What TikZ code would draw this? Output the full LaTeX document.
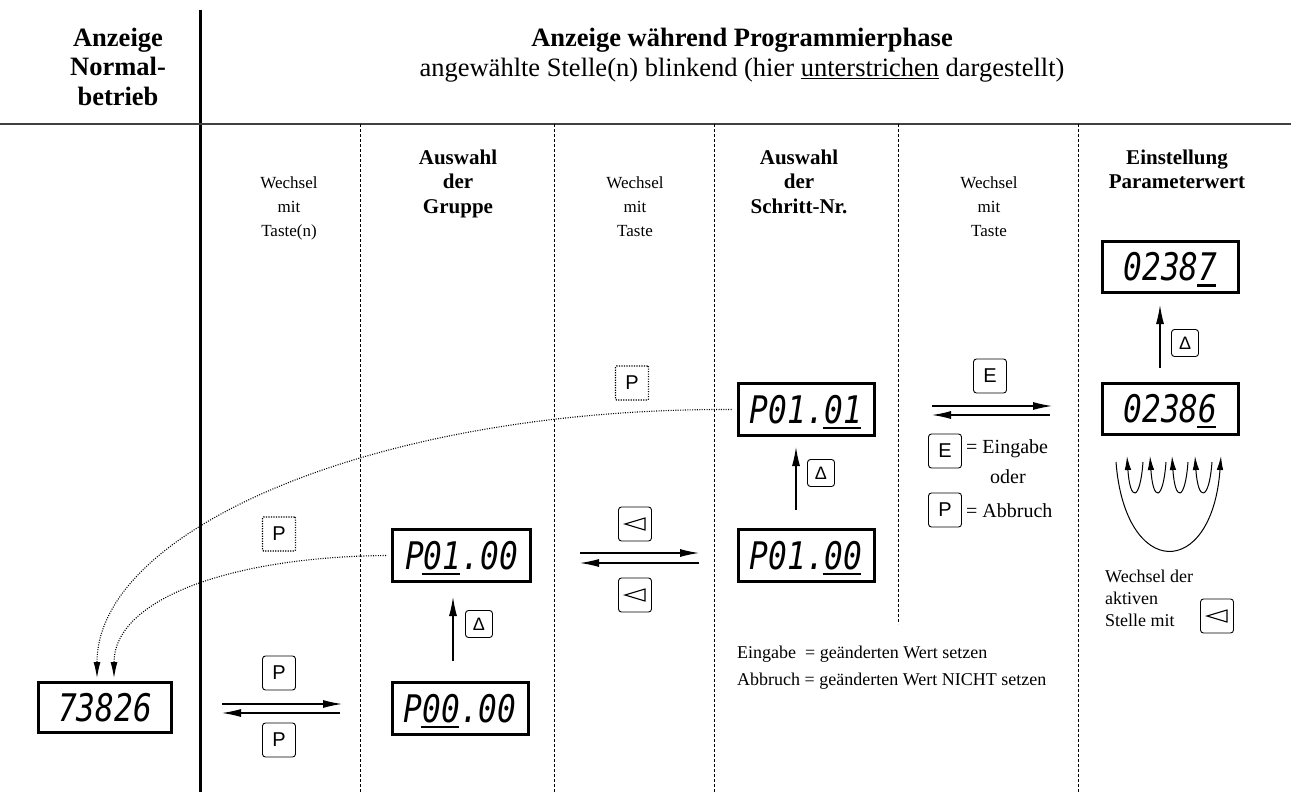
\documentclass[tikz,border=0pt]{standalone}
\usepackage{fontspec}
\setmainfont{Liberation Serif}
\newfontfamily\keyfont{Liberation Sans}
\newfontfamily\segfont{DejaVu Sans Mono}[FakeStretch=0.82]
\usetikzlibrary{arrows.meta}
\newcommand\myfs[1]{\fontsize{#1}{#1}\selectfont}
\newlength\segw
\newcommand\segul[1]{\settowidth\segw{#1}\rlap{\kern-1.5pt\rule[-6pt]{\segw}{2.4pt}}#1}
\begin{document}
\begin{tikzpicture}[x=1pt,y=-1pt,
  hdr/.style={font=\bfseries\myfs{26.5}, anchor=base, inner sep=0pt},
  sub/.style={font=\myfs{26.5}, anchor=base, inner sep=0pt},
  colhd/.style={font=\bfseries\myfs{21}, anchor=base, inner sep=0pt},
  small/.style={font=\myfs{17}, anchor=base, inner sep=0pt},
  note/.style={font=\myfs{18}, anchor=base west, inner sep=0pt},
  legend/.style={font=\myfs{20}, anchor=base west, inner sep=0pt},
  disp/.style={draw, line width=3pt, minimum width=136pt, minimum height=52pt, inner sep=0pt,
    text height=27.7pt, text depth=0pt, font=\segfont\itshape\myfs{38}},
  key/.style={draw, rounded corners=3pt, line width=0.9pt, minimum width=33pt, minimum height=34pt,
    inner sep=0pt, font=\keyfont\myfs{20}},
  skey/.style={key, minimum width=27pt, minimum height=27pt, font=\keyfont\myfs{18}},
  dkey/.style={key, rounded corners=1pt, line width=1.2pt, dash pattern=on 1.2pt off 1.3pt},
  arr/.style={line width=1.1pt, -{Latex[length=19pt,width=8pt]}},
  looparr/.style={line width=1pt, -{Latex[length=14pt,width=6.5pt]}},
  colline/.style={line width=0.8pt, dash pattern=on 3pt off 2pt},
  dots/.style={line width=1.1pt, dash pattern=on 1pt off 1.4pt, -{Latex[length=16pt,width=7pt]}},
  tri/.style={line width=1.1pt, line join=miter}
]
\useasboundingbox (0,0) rectangle (1291,792);
% frame
\coordinate (vt) at (200,10);
\coordinate (vb) at (200,792);
\draw[line width=3pt] (vt) -- (vb);
\coordinate (hl) at (0,124);
\coordinate (hr) at (1291,124);
\draw[line width=1.5pt, black!75] (hl) -- (hr);
\foreach \x/\e in {360/792,554/792,714/792,898/624,1078/792}
  \draw[colline] (\x,124) -- (\x,\e);

% headers
\node[hdr] (h1) at (118,47) {Anzeige};
\node[hdr] (h2) at (118,76) {Normal-};
\node[hdr] (h3) at (118,105) {betrieb};
\node[hdr] (m1) at (742,47) {Anzeige während Programmierphase};
\node[sub] (m2) at (742,77) {angewählte Stelle(n) blinkend (hier \underline{unterstrichen} dargestellt)};

% column heads
\node[small] (c1a) at (289,188) {Wechsel};
\node[small] (c1b) at (289,212) {mit};
\node[small] (c1c) at (289,236) {Taste(n)};
\node[colhd] (c2a) at (458,164) {Auswahl};
\node[colhd] (c2b) at (458,188) {der};
\node[colhd] (c2c) at (458,213) {Gruppe};
\node[small] (c3a) at (635,188) {Wechsel};
\node[small] (c3b) at (635,212) {mit};
\node[small] (c3c) at (635,236) {Taste};
\node[colhd] (c4a) at (799,164) {Auswahl};
\node[colhd] (c4b) at (799,188) {der};
\node[colhd] (c4c) at (799,213) {Schritt-Nr.};
\node[small] (c5a) at (989,188) {Wechsel};
\node[small] (c5b) at (989,212) {mit};
\node[small] (c5c) at (989,236) {Taste};
\node[colhd] (c6a) at (1177,164) {Einstellung};
\node[colhd] (c6b) at (1177,188) {Parameterwert};

% displays
\node[disp, minimum width=133pt, minimum height=50pt] (d0) at (105,707.5) {73826};
\node[disp, minimum width=138pt] (g1) at (461.5,555.5) {P\segul{01}.00};
\node[disp] (g0) at (460,708.5) {P\segul{00}.00};
\node[disp] (s1) at (806,409.5) {P01.\segul{01}};
\node[disp] (s0) at (806,555.5) {P01.\segul{00}};
\node[disp, minimum height=51pt] (v1) at (1170.5,267) {0238\segul{7}};
\node[disp, minimum height=51pt] (v0) at (1170.5,408.5) {0238\segul{6}};

% keys
\node[key] (kp1) at (279,673) {P};
\node[key] (kp2) at (279,740) {P};
\node[dkey] (kpd1) at (279,534) {P};
\node[dkey] (kpd2) at (632,383) {P};
\node[key] (kl1) at (635,524) {};
\node[key] (kl2) at (635,595) {};
\node[key] (ke) at (990,376) {E};
\node[key] (ke2) at (945,451) {E};
\node[key] (kp3) at (945,510) {P};
\node[skey] (kd1) at (479,624) {Δ};
\node[skey] (kd2) at (821,473) {Δ};
\node[skey] (kd3) at (1185,343) {Δ};
\node[key] (kl3) at (1217,616) {};
\foreach \k in {kl1,kl2,kl3}
  \draw[tri] ([xshift=-10pt]\k.center) -- ([xshift=10pt,yshift=6pt]\k.center)
     -- ([xshift=10pt,yshift=-6pt]\k.center) -- cycle;

% horizontal arrow pairs
\coordinate (a1l) at (222,704); \coordinate (a1r) at (342,704);
\coordinate (b1r) at (340,713); \coordinate (b1l) at (222,713);
\draw[arr] (a1l) -- (a1r);
\draw[arr] (b1r) -- (b1l);
\coordinate (a3l) at (580,553); \coordinate (a3r) at (699,553);
\coordinate (b3r) at (699,563); \coordinate (b3l) at (580,563);
\draw[arr] (a3l) -- (a3r);
\draw[arr] (b3r) -- (b3l);
\coordinate (a5l) at (932,406); \coordinate (a5r) at (1052,406);
\coordinate (b5r) at (1050,415); \coordinate (b5l) at (932,415);
\draw[arr] (a5l) -- (a5r);
\draw[arr] (b5r) -- (b5l);

% up arrows
\draw[arr] ([xshift=-7pt,yshift=20pt]g0.north) -- ([xshift=-8.5pt,yshift=-14pt]g1.south);
\draw[arr] ([xshift=-10pt,yshift=18pt]s0.north) -- ([xshift=-10pt,yshift=-10pt]s1.south);
\draw[arr] ([xshift=-10.5pt,yshift=14pt]v0.north) -- ([xshift=-10.5pt,yshift=-11pt]v1.south);

% dotted return curves
\coordinate (t1) at ([xshift=-8pt,yshift=3pt]d0.north);
\coordinate (t2) at ([xshift=9pt,yshift=3pt]d0.north);
\draw[dots] ([xshift=-5pt]s1.west) .. controls (375,408) and (97,530) .. (t1);
\draw[dots] ([xshift=-5pt]g1.west) .. controls (228,557) and (114,600) .. (t2);

% legend
\node[legend] (le) at (966,453) {= Eingabe};
\node[font=\myfs{20}, anchor=base, inner sep=0pt] (lo) at (1008,483) {oder};
\node[legend] (la) at (966,517) {= Abbruch};
\node[note] (n1) at (737,658) {Eingabe\ \ = geänderten Wert setzen};
\node[note] (n2) at (737,685) {Abbruch = geänderten Wert NICHT setzen};

% digit-change loops
\foreach \s/\t in {1143/1127,1166/1150,1188/1172,1212/1195}
  \draw[looparr] (\s,462) .. controls (\s-3,502) and (\t+3,502) .. (\t,456);
\coordinate (bl) at (1116,462);
\coordinate (br) at (1221,456);
\draw[looparr] (bl) .. controls (1125,580) and (1212,580) .. (br);
\node[note] (w1) at (1105,582) {Wechsel der};
\node[note] (w2) at (1105,604) {aktiven};
\node[note] (w3) at (1105,626) {Stelle mit};
\end{tikzpicture}
\end{document}
